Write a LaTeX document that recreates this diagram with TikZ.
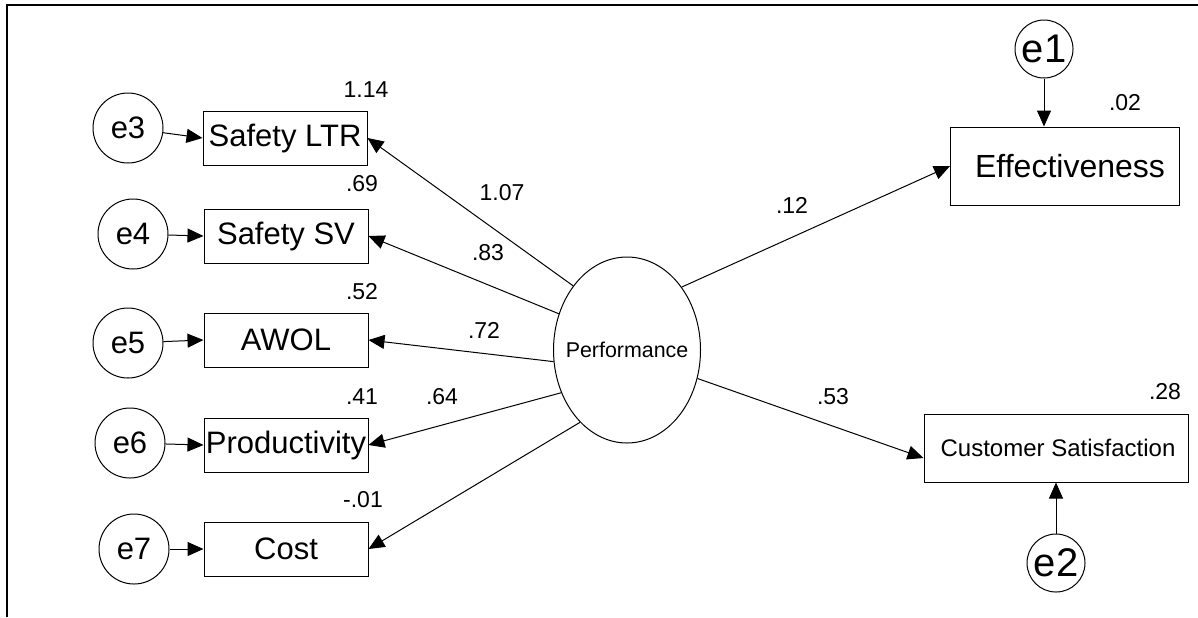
\documentclass[tikz,border=0pt]{standalone}
\usepackage{fontspec}
\setmainfont{Liberation Sans}
\usetikzlibrary{shapes.geometric,arrows.meta}

\begin{document}
\begin{tikzpicture}[x=0.5pt,y=-0.5pt,
            obs/.style={draw,line width=0.5pt,inner sep=0pt,minimum width=82pt,
                minimum height=27pt,font=\fontsize{15.5}{18}\selectfont},
            err/.style={draw,circle,line width=0.5pt,inner sep=0pt,minimum size=35pt,
                font=\fontsize{15.5}{18}\selectfont},
            errsmall/.style={err,minimum size=29pt,font=\fontsize{20}{22}\selectfont},
            num/.style={inner sep=0pt,font=\fontsize{11.5}{13}\selectfont},
            arr/.style={-{Triangle[length=8pt,width=7pt]},line width=0.5pt}]
            \useasboundingbox (0,0) rectangle (1198,617);
            \draw[line width=1pt] (7,617) -- (7,5) -- (1198,5);

            % indicators on the left
            \node[err] (e3) at (128,128) {e3};
            \node[err] (e4) at (133,234) {e4};
            \node[err] (e5) at (128,343) {e5};
            \node[err] (e6) at (130,443) {e6};
            \node[err] (e7) at (134,549) {e7};
            \node[obs] (ltr) at (285,138) {Safety LTR};
            \node[obs] (sv) at (286,236) {Safety SV};
            \node[obs] (awol) at (286,340) {AWOL};
            \node[obs] (prod) at (286,445) {Productivity};
            \node[obs] (cost) at (286,549) {Cost};

            \node[draw,ellipse,line width=0.5pt,inner sep=0pt,minimum width=73.5pt,
                minimum height=93pt,font=\fontsize{10.7}{12}\selectfont] (perf) at (627,350)
                {\makebox[0pt]{Performance}};

            % outcomes on the right
            \node[obs,minimum width=114.5pt,minimum height=39pt,
                font=\fontsize{16}{19}\selectfont] (eff) at (1065,166) {\hspace{5pt}Effectiveness};
            \node[obs,minimum width=132pt,minimum height=34pt,
                font=\fontsize{12}{14}\selectfont] (cs) at (1056,448) {\hspace{2pt}Customer Satisfaction};
            \node[errsmall] (e1) at (1044,49) {e1};
            \node[errsmall] (e2) at (1056,563) {e2};

            % estimates
            \node[num] (v1) at (366,90) {1.14};
            \node[num] (v2) at (362,184) {.69};
            \node[num] (v3) at (362,292) {.52};
            \node[num] (v4) at (362,397) {.41};
            \node[num] (v5) at (363,500) {-.01};
            \node[num] (w1) at (502,193) {1.07};
            \node[num] (w2) at (488,253) {.83};
            \node[num] (w3) at (484,330) {.72};
            \node[num] (w4) at (442,397) {.64};
            \node[num] (w5) at (792,205) {.12};
            \node[num] (w6) at (833,397) {.53};
            \node[num] (v6) at (1125,103) {.02};
            \node[num] (v7) at (1165,392) {.28};

            \foreach \e/\b in {e3/ltr,e4/sv,e5/awol,e6/prod,e7/cost}
                \draw[arr] (\e) -- (\b.west);
            \foreach \a/\b in {130/ltr,152/sv,189/awol,213/prod,237/cost}
                \draw[arr] (perf.\a) -- (\b.east);
            \draw[arr] (perf.49) -- (eff.west);
            \draw[arr] (perf.-22) -- ([yshift=-5pt]cs.west);
            \draw[arr] (e1) -- (e1 |- eff.north);
            \draw[arr] (e2) -- (cs.south);
        \end{tikzpicture}
\end{document}
